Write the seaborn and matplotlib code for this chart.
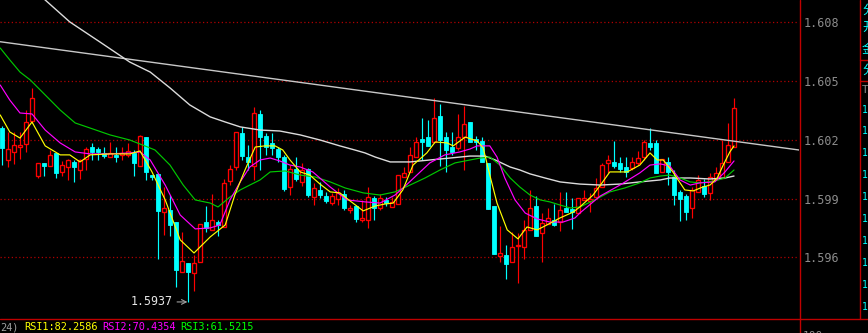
import matplotlib
matplotlib.use("Agg")
import matplotlib.pyplot as plt
import seaborn as sns
import numpy as np

# ---------------- data ----------------
opens = [1.60260, 1.60097, 1.60138, 1.60163, 1.60179, 1.60296, 1.60015, 1.60082, 1.60066, 1.60133,
         1.60036, 1.60061, 1.60087, 1.60046, 1.60102, 1.60163, 1.60153, 1.60133, 1.60112, 1.60123,
         1.60123, 1.60123, 1.60133, 1.60066, 1.60214, 1.60020, 1.60026, 1.59831, 1.59842, 1.59780,
         1.59525, 1.59571, 1.59520, 1.59576, 1.59780, 1.59740, 1.59780, 1.59755, 1.59990, 1.60061,
         1.60235, 1.60112, 1.60066, 1.60332, 1.60220, 1.60184, 1.60153, 1.60112, 1.59959, 1.60051,
         1.59985, 1.60051, 1.59908, 1.59944, 1.59913, 1.59877, 1.59898, 1.59923, 1.59842, 1.59862,
         1.59791, 1.59791, 1.59903, 1.59852, 1.59893, 1.59857, 1.59872, 1.60010, 1.60036, 1.60112,
         1.60204, 1.60214, 1.60189, 1.60322, 1.60214, 1.60163, 1.60158, 1.60214, 1.60291, 1.60204,
         1.60194, 1.60082, 1.59862, 1.59607, 1.59612, 1.59576, 1.59658, 1.59653, 1.59740, 1.59862,
         1.59724, 1.59770, 1.59791, 1.59780, 1.59852, 1.59847, 1.59826, 1.59893, 1.59888, 1.59908,
         1.59959, 1.60082, 1.60087, 1.60082, 1.60061, 1.60056, 1.60082, 1.60112, 1.60184, 1.60184,
         1.60036, 1.60087, 1.60010, 1.59934, 1.59913, 1.59852, 1.59934, 1.59964, 1.59929, 1.59999,
         1.60005, 1.60087, 1.60163]
highs = [1.60270, 1.60240, 1.60240, 1.60240, 1.60352, 1.60465, 1.60082, 1.60082, 1.60148, 1.60133,
         1.60092, 1.60102, 1.60097, 1.60102, 1.60163, 1.60184, 1.60163, 1.60163, 1.60189, 1.60163,
         1.60163, 1.60184, 1.60148, 1.60225, 1.60214, 1.60020, 1.60031, 1.59959, 1.59918, 1.59780,
         1.59729, 1.59571, 1.59612, 1.59770, 1.59862, 1.59923, 1.59791, 1.60000, 1.60071, 1.60240,
         1.60266, 1.60174, 1.60368, 1.60352, 1.60235, 1.60235, 1.60163, 1.60123, 1.60071, 1.60112,
         1.60082, 1.60056, 1.59980, 1.59985, 1.59934, 1.59929, 1.59954, 1.59944, 1.59867, 1.59867,
         1.59893, 1.59959, 1.59913, 1.59923, 1.59908, 1.59908, 1.60020, 1.60061, 1.60163, 1.60214,
         1.60311, 1.60301, 1.60414, 1.60383, 1.60240, 1.60240, 1.60332, 1.60373, 1.60291, 1.60220,
         1.60214, 1.60082, 1.59862, 1.59760, 1.59663, 1.59729, 1.59724, 1.59791, 1.59944, 1.59913,
         1.59826, 1.59852, 1.59872, 1.59934, 1.59934, 1.59903, 1.59903, 1.59944, 1.59929, 1.60005,
         1.60082, 1.60123, 1.60194, 1.60112, 1.60112, 1.60112, 1.60143, 1.60199, 1.60260, 1.60199,
         1.60102, 1.60112, 1.60046, 1.59944, 1.59923, 1.59959, 1.60020, 1.60000, 1.60031, 1.60061,
         1.60199, 1.60286, 1.60414]
lows = [1.60071, 1.60061, 1.60077, 1.60102, 1.60138, 1.60286, 1.60005, 1.60015, 1.60066, 1.60005,
        1.60015, 1.59995, 1.59985, 1.60000, 1.60046, 1.60097, 1.60097, 1.60107, 1.60112, 1.60087,
        1.60097, 1.60112, 1.60015, 1.60066, 1.59995, 1.59995, 1.59592, 1.59714, 1.59709, 1.59449,
        1.59525, 1.59372, 1.59428, 1.59576, 1.59729, 1.59740, 1.59709, 1.59755, 1.59969, 1.60046,
        1.60097, 1.60046, 1.59995, 1.60046, 1.60123, 1.60123, 1.60087, 1.59939, 1.59918, 1.59990,
        1.59964, 1.59908, 1.59867, 1.59903, 1.59877, 1.59867, 1.59867, 1.59842, 1.59826, 1.59780,
        1.59780, 1.59750, 1.59791, 1.59842, 1.59862, 1.59857, 1.59872, 1.60010, 1.60036, 1.60112,
        1.60097, 1.60169, 1.60189, 1.60066, 1.60036, 1.60123, 1.60148, 1.60046, 1.60189, 1.60148,
        1.60087, 1.59847, 1.59617, 1.59576, 1.59489, 1.59576, 1.59469, 1.59592, 1.59740, 1.59709,
        1.59576, 1.59770, 1.59760, 1.59734, 1.59831, 1.59745, 1.59826, 1.59893, 1.59831, 1.59908,
        1.59959, 1.60031, 1.60056, 1.60036, 1.60010, 1.60046, 1.60071, 1.60097, 1.60148, 1.60031,
        1.60036, 1.59969, 1.59867, 1.59786, 1.59791, 1.59801, 1.59934, 1.59908, 1.59893, 1.59999,
        1.60005, 1.60087, 1.60163]
closes = [1.60158, 1.60153, 1.60174, 1.60174, 1.60291, 1.60414, 1.60082, 1.60066, 1.60123, 1.60031,
          1.60071, 1.60097, 1.60061, 1.60097, 1.60153, 1.60138, 1.60138, 1.60117, 1.60133, 1.60112,
          1.60133, 1.60143, 1.60082, 1.60220, 1.60036, 1.60010, 1.59837, 1.59852, 1.59765, 1.59535,
          1.59581, 1.59525, 1.59571, 1.59770, 1.59750, 1.59791, 1.59765, 1.59980, 1.60051, 1.60240,
          1.60117, 1.60087, 1.60337, 1.60214, 1.60163, 1.60158, 1.60112, 1.59949, 1.60051, 1.60000,
          1.60046, 1.59918, 1.59954, 1.59918, 1.59888, 1.59913, 1.59929, 1.59852, 1.59852, 1.59796,
          1.59801, 1.59908, 1.59852, 1.59903, 1.59877, 1.59883, 1.60020, 1.60031, 1.60123, 1.60189,
          1.60189, 1.60169, 1.60311, 1.60199, 1.60148, 1.60138, 1.60214, 1.60281, 1.60189, 1.60189,
          1.60087, 1.59847, 1.59617, 1.59622, 1.59566, 1.59653, 1.59663, 1.59740, 1.59852, 1.59709,
          1.59775, 1.59801, 1.59765, 1.59842, 1.59831, 1.59831, 1.59903, 1.59903, 1.59898, 1.59954,
          1.60071, 1.60097, 1.60066, 1.60051, 1.60036, 1.60087, 1.60107, 1.60189, 1.60163, 1.60031,
          1.60102, 1.60036, 1.59918, 1.59898, 1.59831, 1.59944, 1.59995, 1.59923, 1.60010, 1.60031,
          1.60082, 1.60174, 1.60363]

ma_short_x = [-0.3, 1.3, 3.0, 5.0, 7.2, 9.7, 11.3, 13.0, 14.7, 18.0, 21.3, 23.0, 25.0, 27.2, 29.7,
              32.0, 34.7, 37.2, 38.8, 40.5, 42.2, 43.8, 45.5, 46.8, 48.0, 49.7, 51.3, 53.0, 54.7,
              56.3, 58.0, 60.2, 62.2, 63.8, 65.2, 66.8, 68.5, 70.8, 72.2, 74.2, 75.2, 77.2, 79.2,
              80.2, 81.3, 82.5, 84.2, 86.0, 87.5, 89.2, 90.8, 93.0, 95.2, 96.3, 98.5, 100.0, 101.3,
              104.2, 106.3, 108.0, 109.2, 110.2, 111.8, 113.8, 115.2, 116.8, 118.0, 119.2, 120.2,
              121.3, 122.0]
ma_short = [1.60327, 1.60240, 1.60209, 1.60291, 1.60169, 1.60123, 1.60123, 1.60087, 1.60123, 1.60128,
            1.60128, 1.60143, 1.60036, 1.59893, 1.59689, 1.59622, 1.59704, 1.59765, 1.59918, 1.60046,
            1.60163, 1.60169, 1.60169, 1.60148, 1.60097, 1.60036, 1.60020, 1.59974, 1.59934, 1.59929,
            1.59888, 1.59837, 1.59862, 1.59872, 1.59877, 1.59944, 1.60071, 1.60133, 1.60189, 1.60184,
            1.60169, 1.60214, 1.60194, 1.60158, 1.60020, 1.59877, 1.59740, 1.59694, 1.59755, 1.59740,
            1.59765, 1.59801, 1.59831, 1.59857, 1.59918, 1.59980, 1.60036, 1.60036, 1.60071, 1.60133,
            1.60097, 1.60097, 1.60036, 1.59944, 1.59939, 1.59959, 1.59969, 1.60005, 1.60071, 1.60138,
            1.60169]

ma_mid_x = [-0.3, 1.3, 3.0, 5.0, 7.2, 9.7, 12.2, 14.7, 18.0, 21.3, 23.0, 24.7, 27.2, 29.7, 32.2,
            34.7, 36.3, 38.0, 39.7, 41.3, 43.0, 44.7, 46.3, 48.0, 49.7, 51.8, 54.7, 57.5, 60.5,
            63.0, 65.5, 67.2, 69.7, 71.3, 73.8, 76.3, 78.0, 79.2, 81.3, 82.5, 83.8, 85.5, 87.2,
            89.2, 91.3, 93.5, 95.5, 96.3, 99.7, 103.0, 106.3, 108.0, 109.7, 111.3, 113.0, 114.7,
            116.3, 118.8, 120.5, 122.0]
ma_mid = [1.60480, 1.60403, 1.60337, 1.60332, 1.60250, 1.60184, 1.60138, 1.60128, 1.60128, 1.60133,
          1.60138, 1.60097, 1.59969, 1.59816, 1.59745, 1.59750, 1.59765, 1.59893, 1.59985, 1.60061,
          1.60097, 1.60107, 1.60092, 1.60071, 1.60061, 1.60036, 1.59959, 1.59893, 1.59883, 1.59877,
          1.59918, 1.59964, 1.60036, 1.60082, 1.60123, 1.60138, 1.60153, 1.60169, 1.60169, 1.60112,
          1.60005, 1.59893, 1.59826, 1.59796, 1.59780, 1.59780, 1.59801, 1.59826, 1.59913, 1.59969,
          1.60031, 1.60071, 1.60077, 1.60066, 1.59995, 1.59969, 1.59980, 1.59985, 1.60036, 1.60092]

ma_long_x = [-0.3, 1.3, 3.0, 4.7, 7.2, 9.7, 12.2, 14.7, 18.0, 21.3, 23.8, 25.5, 28.0, 30.2, 32.2,
             34.7, 36.0, 38.0, 39.7, 41.3, 43.0, 44.7, 47.2, 49.7, 52.2, 54.7, 57.2, 60.2, 63.0,
             65.5, 68.0, 70.5, 73.0, 75.5, 78.0, 79.7, 81.3, 83.0, 84.7, 86.3, 88.0, 89.7, 91.3,
             93.0, 94.7, 96.3, 98.8, 101.3, 103.8, 106.3, 108.0, 109.7, 111.3, 113.0, 114.7, 116.3,
             118.8, 120.5, 122.0]
ma_long = [1.60669, 1.60608, 1.60546, 1.60506, 1.60429, 1.60352, 1.60286, 1.60260, 1.60225, 1.60199,
           1.60169, 1.60148, 1.60071, 1.59969, 1.59893, 1.59877, 1.59857, 1.59908, 1.59944, 1.59969,
           1.59995, 1.60036, 1.60041, 1.60020, 1.60010, 1.59985, 1.59954, 1.59929, 1.59918, 1.59934,
           1.59969, 1.60005, 1.60046, 1.60082, 1.60097, 1.60107, 1.60112, 1.60071, 1.60005, 1.59959,
           1.59918, 1.59893, 1.59883, 1.59867, 1.59852, 1.59857, 1.59893, 1.59934, 1.59954, 1.59980,
           1.60005, 1.60015, 1.60020, 1.60005, 1.59985, 1.59980, 1.59990, 1.60005, 1.60046]

ma_slow_x = [5.0, 7.2, 11.3, 16.3, 21.3, 24.7, 28.0, 31.3, 34.7, 37.2, 39.7, 43.0, 46.3, 49.7, 53.0,
             56.3, 58.8, 60.5, 62.2, 64.7, 68.0, 71.3, 74.7, 78.0, 80.5, 82.2, 84.7, 86.3, 88.0,
             90.5, 93.0, 96.3, 99.7, 103.0, 106.3, 108.0, 109.7, 111.3, 114.7, 118.0, 120.5, 122.0]
ma_slow = [1.60970, 1.60914, 1.60802, 1.60700, 1.60597, 1.60546, 1.60465, 1.60378, 1.60317, 1.60291,
           1.60266, 1.60250, 1.60245, 1.60225, 1.60199, 1.60169, 1.60148, 1.60133, 1.60112, 1.60087,
           1.60087, 1.60097, 1.60107, 1.60117, 1.60117, 1.60097, 1.60061, 1.60046, 1.60026, 1.60005,
           1.59985, 1.59974, 1.59969, 1.59974, 1.59985, 1.59990, 1.59995, 1.60005, 1.60005, 1.60000,
           1.60005, 1.60015]

trend_x = [-0.33, 132.83]
trend_y = [1.60701, 1.60148]

price_levels = [1.596, 1.599, 1.602, 1.605, 1.608]
low_label = "1.5937"
low_index = 31
rsi_prefix = "24)"
rsi_labels = ["RSI1:82.2586", "RSI2:70.4354", "RSI3:61.5215"]

# ---------------- drawing ----------------
sns.set_theme(style="dark")
plt.rcParams["font.family"] = ["DejaVu Sans Mono", "Noto Sans CJK SC", "DejaVu Sans"]

W, H = 868, 333
fig = plt.figure(figsize=(W / 100, H / 100), dpi=100, facecolor="black")
ax = fig.add_axes([0, 15 / H, 799 / W, 318 / H])
ax.set_facecolor("black")
ax.set_xlim(-0.333, 132.83)
ax.set_ylim(1.59290, 1.60914)
for s in ax.spines.values():
    s.set_visible(False)
ax.grid(False)

RED = "#ff0000"
CYAN = "#00ffff"
for lv in price_levels:
    ax.axhline(lv, color="#b00000", lw=0.9, ls=(0, (1, 2)), zorder=1)

idx = np.arange(len(opens))
o = np.array(opens); h = np.array(highs); l = np.array(lows); c = np.array(closes)
up = c >= o
cols = np.where(up, RED, CYAN)
ax.vlines(idx, l, h, colors=cols, lw=0.85, zorder=2)
bw = 0.78
minh = 0.00002
bottoms = np.minimum(o, c)
heights = np.maximum(np.abs(c - o), minh)
ax.bar(idx[up], heights[up], bottom=bottoms[up], width=bw, facecolor="black",
       edgecolor=RED, linewidth=0.95, zorder=3)
ax.bar(idx[~up], heights[~up], bottom=bottoms[~up], width=bw, facecolor=CYAN,
       edgecolor=CYAN, linewidth=0.6, zorder=3)

kw = dict(ax=ax, sort=False, estimator=None, legend=False, zorder=4)
sns.lineplot(x=trend_x, y=trend_y, color="#c8c8c8", lw=1.0, **kw)
sns.lineplot(x=ma_slow_x, y=ma_slow, color="#dcdcdc", lw=1.0, **kw)
sns.lineplot(x=ma_long_x, y=ma_long, color="#00c800", lw=0.85, **kw)
sns.lineplot(x=ma_mid_x, y=ma_mid, color="#ff00ff", lw=0.85, **kw)
sns.lineplot(x=ma_short_x, y=ma_short, color="#ffff00", lw=0.85, **kw)

ax.set_xticks([])
ax.yaxis.tick_right()
ax.set_yticks(price_levels)
ax.set_yticklabels([f"{v:.3f}" for v in price_levels])
ax.tick_params(axis="y", length=0, pad=3, labelsize=8.5, labelcolor="#8c8c8c")
ax.set_xlabel(""); ax.set_ylabel("")

ax.annotate(low_label, xy=(low_index - 0.1, lows[low_index]), xytext=(-15, 0),
            textcoords="offset pixels", ha="right", va="center", color="#e6e6e6",
            fontsize=8.4, zorder=6,
            arrowprops=dict(arrowstyle="->", color="#a0a0a0", lw=0.8, shrinkA=1, shrinkB=0))

# overlay for frame lines and status texts (figure pixel coordinates)
ov = fig.add_axes([0, 0, 1, 1], facecolor="none")
ov.set_xlim(0, W); ov.set_ylim(H, 0); ov.axis("off")
FR = "#c00000"
ov.plot([0, W], [318.5, 318.5], color=FR, lw=1.0)
ov.plot([799.5, 799.5], [0, H], color=FR, lw=1.0)
ov.plot([859.5, 859.5], [0, 318.5], color=FR, lw=1.0)
ov.plot([859.5, W], [59.5, 59.5], color=FR, lw=1.0)
ov.plot([859.5, W], [80.5, 80.5], color=FR, lw=1.0)

ov.text(0, 327, rsi_prefix, color="#a0a0a0", fontsize=7.4, va="center", ha="left")
for xpos, txt, col in zip([24, 102, 180], rsi_labels, ["#ffff00", "#ff00ff", "#00ff00"]):
    ov.text(xpos, 327, txt, color=col, fontsize=7.4, va="center", ha="left")
ov.text(803, 331, "100", color="#8c8c8c", fontsize=8, va="top", ha="left")

side = ["分", "开", "金", "分"]
for ypos, ch in zip([10, 27, 50, 70], side):
    ov.text(862, ypos, ch, color=CYAN, fontsize=9, va="center", ha="left",
            family=["Noto Sans CJK SC", "DejaVu Sans"])
ov.text(862, 90, "T", color="#8c8c8c", fontsize=8, va="center", ha="left")
for ypos in [110, 131, 153, 175, 197, 219, 241, 263, 285, 307]:
    ov.text(862, ypos, "1", color=CYAN, fontsize=7, va="center", ha="left")

fig.savefig("out.png", dpi=100, facecolor="black")
